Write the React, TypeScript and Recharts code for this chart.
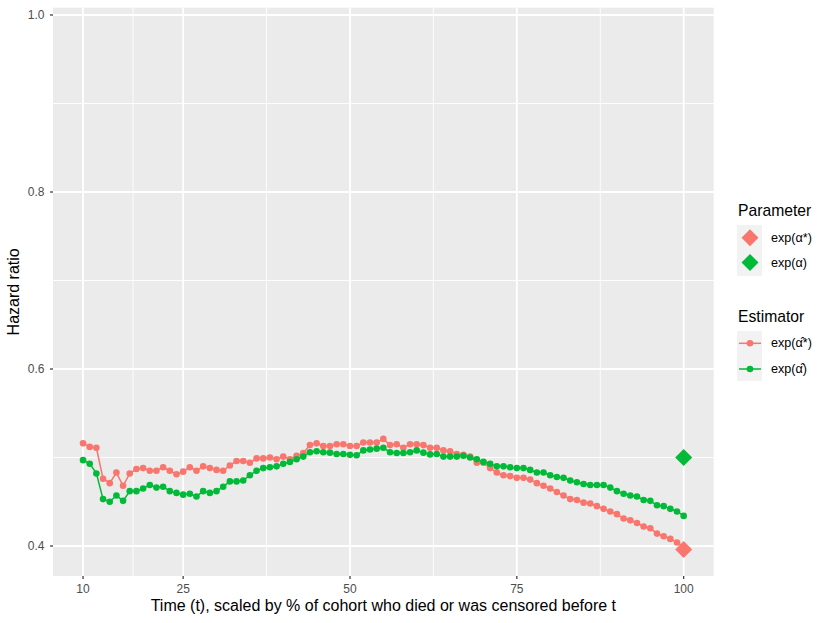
import React from 'react';
import { ComposedChart, Line, Scatter, XAxis, YAxis, CartesianGrid, Legend } from 'recharts';

const RED = '#F8766D';
const GREEN = '#00BA38';

const times = [
  10, 11, 12, 13, 14, 15, 16, 17, 18, 19, 20, 21, 22, 23, 24, 25, 26, 27, 28, 29,
  30, 31, 32, 33, 34, 35, 36, 37, 38, 39, 40, 41, 42, 43, 44, 45, 46, 47, 48, 49,
  50, 51, 52, 53, 54, 55, 56, 57, 58, 59, 60, 61, 62, 63, 64, 65, 66, 67, 68, 69,
  70, 71, 72, 73, 74, 75, 76, 77, 78, 79, 80, 81, 82, 83, 84, 85, 86, 87, 88, 89,
  90, 91, 92, 93, 94, 95, 96, 97, 98, 99, 100,
];

// exp(alpha-hat*)
const estStar = [
  0.516, 0.512, 0.511, 0.476, 0.471, 0.483, 0.468, 0.482, 0.487, 0.488,
  0.485, 0.485, 0.489, 0.485, 0.481, 0.484, 0.489, 0.485, 0.490, 0.488,
  0.486, 0.485, 0.491, 0.496, 0.496, 0.494, 0.499, 0.499, 0.500, 0.498,
  0.501, 0.498, 0.502, 0.505, 0.514, 0.516, 0.513, 0.513, 0.515, 0.515,
  0.513, 0.513, 0.517, 0.517, 0.517, 0.521, 0.514, 0.515, 0.511, 0.515,
  0.515, 0.514, 0.511, 0.511, 0.508, 0.507, 0.504, 0.503, 0.501, 0.494,
  0.494, 0.488, 0.483, 0.480, 0.479, 0.477, 0.477, 0.475, 0.471, 0.468,
  0.465, 0.461, 0.457, 0.453, 0.452, 0.449, 0.448, 0.445, 0.442, 0.439,
  0.436, 0.431, 0.429, 0.426, 0.422, 0.420, 0.414, 0.411, 0.408, 0.404,
  0.399,
];

// exp(alpha-hat)
const est = [
  0.497, 0.493, 0.482, 0.453, 0.450, 0.457, 0.451, 0.462, 0.462, 0.465,
  0.469, 0.466, 0.467, 0.462, 0.460, 0.458, 0.459, 0.456, 0.462, 0.460,
  0.462, 0.467, 0.473, 0.473, 0.474, 0.480, 0.485, 0.488, 0.489, 0.490,
  0.493, 0.495, 0.498, 0.501, 0.506, 0.507, 0.506, 0.5055, 0.504, 0.504,
  0.503, 0.5025, 0.508, 0.509, 0.510, 0.511, 0.506, 0.505, 0.505, 0.506,
  0.508, 0.5055, 0.5035, 0.504, 0.501, 0.501, 0.501, 0.502, 0.500, 0.498,
  0.495, 0.493, 0.490, 0.490, 0.489, 0.488, 0.488, 0.486, 0.483, 0.483,
  0.480, 0.478, 0.477, 0.474, 0.472, 0.470, 0.469, 0.469, 0.469, 0.466,
  0.462, 0.459, 0.457, 0.456, 0.452, 0.451, 0.446, 0.445, 0.442, 0.439,
  0.434,
];

const paramTimes = [100];
const paramStar = [0.396];
const param = [0.5];

const xTicks = [10, 25, 50, 75, 100];
const xMinor = [17.5, 37.5, 62.5, 87.5];
const yTicks = [0.4, 0.6, 0.8, 1.0];
const yMinor = [0.5, 0.7, 0.9];

const rows = times.map((t, i) => ({ t, star: estStar[i], plain: est[i] }));
const starRows = paramTimes.map((t, i) => ({ t, v: paramStar[i] }));
const plainRows = paramTimes.map((t, i) => ({ t, v: param[i] }));

const FONT = '"Liberation Sans", Arial, Helvetica, sans-serif';
const TITLE_SIZE = 16;
const LEGEND_TITLE_SIZE = 15.7;
const TICK_SIZE = 12;
const LEGEND_TEXT_SIZE = 12.6;

const Diamond = (props: any) => {
  const { cx, cy, fill } = props;
  const h = 8.5;
  return <path d={`M${cx},${cy - h}L${cx + h},${cy}L${cx},${cy + h}L${cx - h},${cy}Z`} fill={fill} />;
};

const diamondPath = (cx: number, cy: number, h: number) =>
  `M${cx},${cy - h}L${cx + h},${cy}L${cx},${cy + h}L${cx - h},${cy}Z`;

const LegendBox = () => (
  <svg width={100} height={200} style={{ overflow: 'visible', display: 'block', fontFamily: FONT }}>
    <text x={8} y={26} fontSize={LEGEND_TITLE_SIZE} fill="#000">Parameter</text>
    <rect x={7} y={35} width={25} height={51} fill="#F2F2F2" />
    <path d={diamondPath(20, 47.7, 8.5)} fill={RED} />
    <path d={diamondPath(20, 72.5, 8.5)} fill={GREEN} />
    <text x={41} y={47.7} fontSize={LEGEND_TEXT_SIZE} dominantBaseline="central" fill="#000">exp(α*)</text>
    <text x={41} y={72.5} fontSize={LEGEND_TEXT_SIZE} dominantBaseline="central" fill="#000">exp(α)</text>

    <text x={8} y={132} fontSize={LEGEND_TITLE_SIZE} fill="#000">Estimator</text>
    <rect x={7} y={141} width={25} height={50} fill="#F2F2F2" />
    <line x1={9} x2={31} y1={153.3} y2={153.3} stroke={RED} strokeWidth={1.5} />
    <circle cx={20} cy={153.3} r={3.3} fill={RED} />
    <line x1={9} x2={31} y1={179} y2={179} stroke={GREEN} strokeWidth={1.5} />
    <circle cx={20} cy={179} r={3.3} fill={GREEN} />
    <text x={41} y={153.3} fontSize={LEGEND_TEXT_SIZE} dominantBaseline="central" fill="#000">exp(α̂*)</text>
    <text x={41} y={179} fontSize={LEGEND_TEXT_SIZE} dominantBaseline="central" fill="#000">exp(α̂)</text>
  </svg>
);

export default function App() {
  return (
    <div style={{ position: 'absolute', left: 0, top: 0, width: 830, height: 623, background: '#fff', fontFamily: FONT }}>
      <ComposedChart
        width={830}
        height={623}
        data={rows}
        margin={{ top: 7.7, right: 116.3, bottom: 0, left: 8 }}
      >
        <CartesianGrid
          fill="#EBEBEB"
          stroke="#FFFFFF"
          strokeWidth={0.9}
          horizontalValues={yMinor}
          verticalValues={xMinor}
        />
        <CartesianGrid
          stroke="#FFFFFF"
          strokeWidth={1.8}
          horizontalValues={yTicks}
          verticalValues={xTicks}
        />
        <XAxis
          dataKey="t"
          type="number"
          domain={[5.5, 104.5]}
          ticks={xTicks}
          allowDataOverflow
          axisLine={false}
          tickLine={{ stroke: '#333333', strokeWidth: 1.2 }}
          tickSize={3}
          tickMargin={5}
          height={47}
          tick={{ fill: '#4D4D4D', fontSize: TICK_SIZE, fontFamily: FONT }}
          label={{
            value: 'Time (t), scaled by % of cohort who died or was censored before t',
            position: 'insideBottom',
            offset: 12,
            fill: '#000',
            fontSize: TITLE_SIZE,
            fontFamily: FONT,
          }}
        />
        <YAxis
          type="number"
          domain={[0.3661, 1.00825]}
          ticks={yTicks}
          allowDataOverflow
          axisLine={false}
          tickLine={{ stroke: '#333333', strokeWidth: 1.2 }}
          tickSize={3}
          tickMargin={5.5}
          width={45}
          tickFormatter={(v: number) => v.toFixed(1)}
          tick={{ fill: '#4D4D4D', fontSize: TICK_SIZE, fontFamily: FONT }}
          label={{
            value: 'Hazard ratio',
            angle: -90,
            position: 'insideLeft',
            offset: 5.3,
            fill: '#000',
            fontSize: TITLE_SIZE,
            fontFamily: FONT,
            style: { textAnchor: 'middle' },
          }}
        />
        <Line
          dataKey="star"
          stroke={RED}
          strokeWidth={1.5}
          dot={{ r: 3.3, fill: RED, stroke: RED, strokeWidth: 0 }}
          activeDot={false}
          isAnimationActive={false}
        />
        <Line
          dataKey="plain"
          stroke={GREEN}
          strokeWidth={1.5}
          dot={{ r: 3.3, fill: GREEN, stroke: GREEN, strokeWidth: 0 }}
          activeDot={false}
          isAnimationActive={false}
        />
        <Scatter data={starRows} dataKey="v" fill={RED} shape={<Diamond />} isAnimationActive={false} />
        <Scatter data={plainRows} dataKey="v" fill={GREEN} shape={<Diamond />} isAnimationActive={false} />
        <Legend
          content={() => <LegendBox />}
          wrapperStyle={{ position: 'absolute', left: 730, top: 190, width: 0, height: 0, overflow: 'visible' }}
        />
      </ComposedChart>
    </div>
  );
}
